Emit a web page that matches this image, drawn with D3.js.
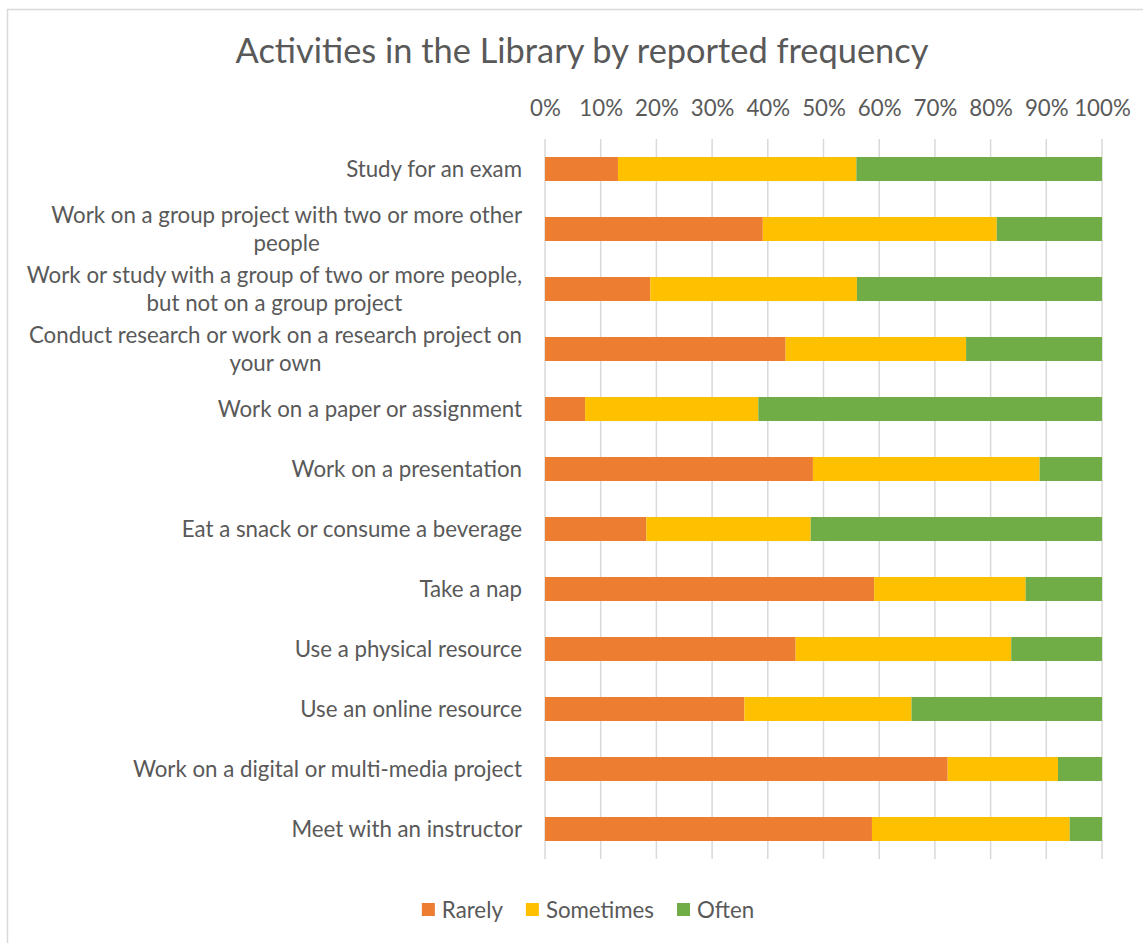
<!DOCTYPE html>
<html>
<head>
<meta charset="utf-8">
<script src="https://cdn.jsdelivr.net/npm/d3@7"></script>
<style>
  html, body { margin: 0; padding: 0; background: #ffffff; }
  svg { display: block; }
</style>
</head>
<body>
<div id="chart"></div>
<script>
// ---------- data ----------
const categories = [
  "Study for an exam",
  "Work on a group project with two or more other people",
  "Work or study with a group of two or more people, but not on a group project",
  "Conduct research or work on a research project on your own",
  "Work on a paper or assignment",
  "Work on a presentation",
  "Eat a snack or consume a beverage",
  "Take a nap",
  "Use a physical resource",
  "Use an online resource",
  "Work on a digital or multi-media project",
  "Meet with an instructor"
];
const seriesNames = ["Rarely", "Sometimes", "Often"];
const rarely    = [13.1, 39.1, 18.9, 43.2,  7.2, 48.1, 18.2, 59.1, 45.0, 35.8, 72.3, 58.7];
const sometimes = [42.8, 42.0, 37.1, 32.4, 31.1, 40.7, 29.5, 27.2, 38.7, 30.0, 19.8, 35.5];
const often     = [44.1, 18.9, 44.0, 24.4, 61.7, 11.2, 52.3, 13.7, 16.3, 34.2,  7.9,  5.8];
const tickValues = [0, 10, 20, 30, 40, 50, 60, 70, 80, 90, 100];
const titleText = "Activities in the Library by reported frequency";

// ---------- styles ----------
const W = 1143, H = 943;
const colors = { Rarely: "#ED7D31", Sometimes: "#FFC000", Often: "#70AD47" };
const textColor = "#595959";
const gridColor = "#D9D9D9";
const fontFamily = "Lato, 'Open Sans', 'Noto Sans', sans-serif";

const rows = categories.map((c, i) => ({
  category: c, Rarely: rarely[i], Sometimes: sometimes[i], Often: often[i]
}));

const svg = d3.select("#chart").append("svg")
  .attr("width", W).attr("height", H)
  .style("font-family", fontFamily);

// font sizing so that the text widths match the reference
function measure(text, size) {
  const t = svg.append("text").style("font-size", size + "px").text(text);
  const w = t.node().getComputedTextLength();
  t.remove();
  return w;
}
const labelSize = 24 * 176 / measure("Study for an exam", 24);
const titleSize = 34 * 693 / measure(titleText, 34);

// chart frame
svg.append("rect")
  .attr("x", 7.5).attr("y", 9.5)
  .attr("width", W + 20).attr("height", H + 20)
  .attr("fill", "#ffffff")
  .attr("stroke", gridColor).attr("stroke-width", 1.5);

// scales
const x = d3.scaleLinear().domain([0, 100]).range([545, 1102]);
const y = d3.scaleBand().domain(categories).range([139, 859])
  .paddingInner(0.6).paddingOuter(0.3);

// title
svg.append("text")
  .attr("x", 582).attr("y", 63)
  .attr("text-anchor", "middle")
  .style("font-size", titleSize + "px")
  .attr("fill", textColor)
  .text(titleText);

// gridlines
svg.append("g").selectAll("line")
  .data(tickValues).join("line")
  .attr("x1", d => x(d)).attr("x2", d => x(d))
  .attr("y1", 139).attr("y2", 859)
  .attr("stroke", gridColor).attr("stroke-width", 1.5);

// top axis (labels only)
const axis = svg.append("g")
  .attr("transform", "translate(0,116)")
  .call(d3.axisTop(x).tickValues(tickValues).tickSize(0).tickPadding(0)
    .tickFormat(d => d + "%"));
axis.select(".domain").remove();
axis.selectAll("text")
  .attr("dy", 0)
  .style("font-size", labelSize + "px")
  .style("font-family", fontFamily)
  .attr("fill", textColor);

// stacked bars
const stack = d3.stack().keys(seriesNames);
const stacked = stack(rows);
svg.append("g").selectAll("g")
  .data(stacked).join("g")
  .attr("fill", s => colors[s.key])
  .selectAll("rect")
  .data(s => s).join("rect")
  .attr("x", d => x(d[0]))
  .attr("width", d => x(d[1]) - x(d[0]))
  .attr("y", d => y(d.data.category))
  .attr("height", y.bandwidth());

// category labels (wrapped, centred lines, right-aligned block)
const maxLabelWidth = 515;
const lineHeight = 28;
const labelRight = 522;
const labelsG = svg.append("g")
  .style("font-size", labelSize + "px")
  .attr("fill", textColor);

categories.forEach(cat => {
  const words = cat.split(" ");
  const lines = [];
  let cur = "";
  words.forEach(w => {
    const test = cur ? cur + " " + w : w;
    if (cur && measure(test, labelSize) > maxLabelWidth) {
      lines.push(cur);
      cur = w;
    } else {
      cur = test;
    }
  });
  if (cur) lines.push(cur);
  const widths = lines.map(l => measure(l, labelSize));
  const blockW = d3.max(widths);
  const cx = labelRight - blockW / 2;
  const cy = y(cat) + y.bandwidth() / 2;
  const first = cy - (lines.length - 1) * lineHeight / 2;
  const t = labelsG.append("text")
    .attr("text-anchor", "middle");
  lines.forEach((l, i) => {
    t.append("tspan")
      .attr("x", cx)
      .attr("y", first + i * lineHeight)
      .attr("dy", "0.35em")
      .text(l);
  });
});

// legend
const legendItems = seriesNames.map(n => ({ name: n, w: measure(n, labelSize) }));
const sq = 13, gapSqText = 7, gapItems = 23;
const totalW = d3.sum(legendItems, d => sq + gapSqText + d.w) + gapItems * (legendItems.length - 1);
let lx = 588 - totalW / 2;
const legend = svg.append("g");
legendItems.forEach(item => {
  legend.append("rect")
    .attr("x", lx).attr("y", 903)
    .attr("width", sq).attr("height", sq)
    .attr("fill", colors[item.name]);
  legend.append("text")
    .attr("x", lx + sq + gapSqText).attr("y", 910)
    .attr("dy", "0.35em")
    .style("font-size", labelSize + "px")
    .attr("fill", textColor)
    .text(item.name);
  lx += sq + gapSqText + item.w + gapItems;
});
</script>
</body>
</html>
